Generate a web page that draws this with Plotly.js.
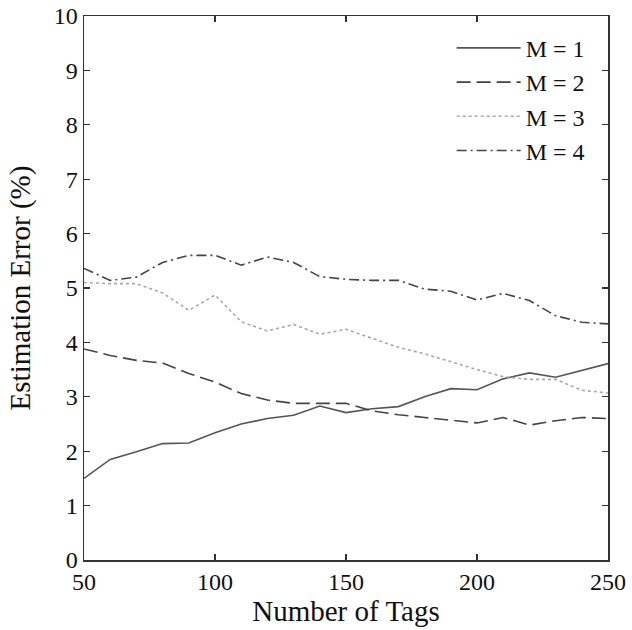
<!DOCTYPE html>
<html>
<head>
<meta charset="utf-8">
<script src="https://cdn.plot.ly/plotly-3.0.1.min.js"></script>
<style>html,body{margin:0;padding:0;background:#fff;}#chart{width:632px;height:630px;}</style>
</head>
<body>
<div id="chart"></div>
<script>
const tags = [50,60,70,80,90,100,110,120,130,140,150,160,170,180,190,200,210,220,230,240,250];
const m1 = [1.50,1.85,1.99,2.14,2.15,2.34,2.50,2.60,2.66,2.83,2.71,2.78,2.82,3.00,3.15,3.13,3.33,3.44,3.36,3.49,3.61];
const m2 = [3.88,3.76,3.67,3.62,3.43,3.27,3.06,2.94,2.88,2.88,2.88,2.74,2.67,2.62,2.57,2.52,2.62,2.48,2.56,2.62,2.60];
const m3 = [5.10,5.08,5.08,4.91,4.59,4.87,4.38,4.21,4.33,4.15,4.24,4.07,3.91,3.79,3.64,3.50,3.37,3.32,3.32,3.12,3.07];
const m4 = [5.36,5.14,5.20,5.47,5.60,5.60,5.42,5.57,5.47,5.21,5.16,5.14,5.14,4.98,4.94,4.78,4.90,4.77,4.49,4.37,4.34];
const names = ['M = 1','M = 2','M = 3','M = 4'];
const xTicks = [50,100,150,200,250];
const yTicks = [0,1,2,3,4,5,6,7,8,9,10];

const series = [m1,m2,m3,m4];
const colors = ['#555555','#444444','#a8a8a8','#444444'];
const dashes = ['solid','14px,6px','3px,3px','10px,4px,2px,4px'];
const traces = series.map((s,i)=>({
  x: tags, y: s, name: names[i], type:'scatter', mode:'lines',
  line:{color:colors[i], width:1.6, dash:dashes[i]}
}));

const fam = '"Liberation Serif", "Times New Roman", serif';
const tickFont = {family:fam, color:'#111', size:24};
const titleFont = {family:fam, color:'#111', size:29};
const axisCommon = {
  showline:true, linecolor:'#333', linewidth:1.5, mirror:'ticks',
  ticks:'inside', ticklen:6, tickcolor:'#333', tickwidth:1.2,
  showgrid:false, zeroline:false, tickfont:tickFont, automargin:false
};
const layout = {
  width:632, height:630,
  margin:{l:84, r:24, t:16, b:70},
  paper_bgcolor:'#fff', plot_bgcolor:'#fff',
  font: tickFont,
  showlegend:true,
  legend:{x:0.965, y:0.982, xanchor:'right', yanchor:'top', bgcolor:'rgba(0,0,0,0)',
          font:{family:fam, size:24, color:'#111'}, itemwidth:64, tracegroupgap:0},
  xaxis: Object.assign({}, axisCommon, {range:[50,250], tickvals:xTicks,
          title:{text:'Number of Tags', font:titleFont, standoff:6}}),
  yaxis: Object.assign({}, axisCommon, {range:[0,10], tickvals:yTicks,
          title:{text:'Estimation Error (%)', font:titleFont, standoff:14}})
};
Plotly.newPlot('chart', traces, layout, {displayModeBar:false, staticPlot:true});
</script>
</body>
</html>
